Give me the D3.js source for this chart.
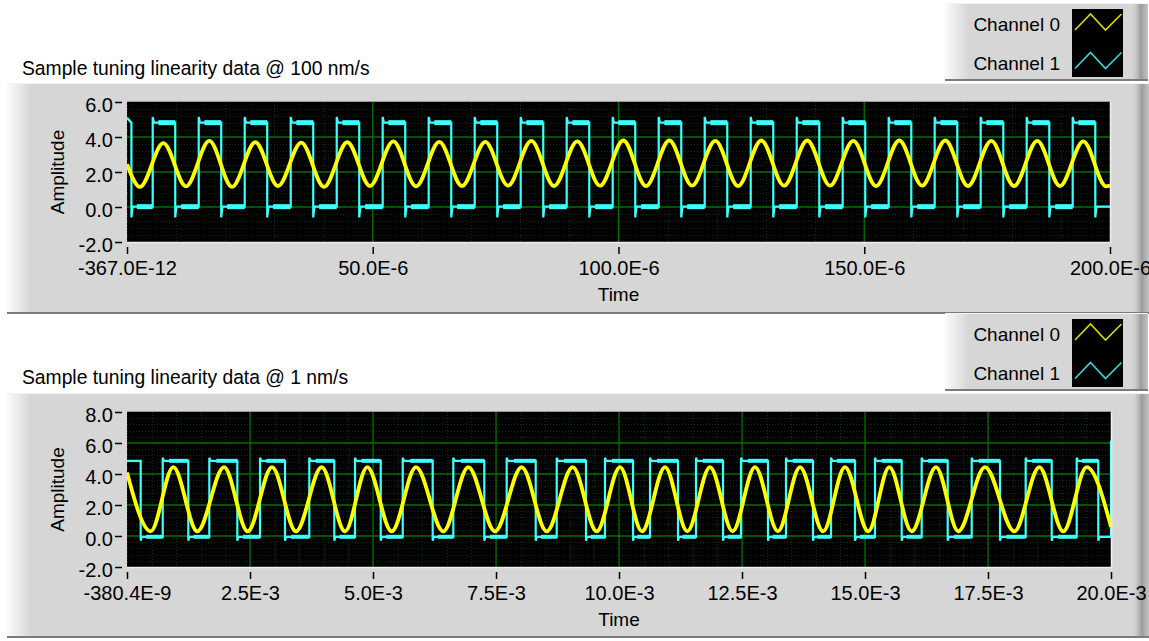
<!DOCTYPE html>
<html><head><meta charset="utf-8">
<script src="https://cdn.jsdelivr.net/npm/d3@7"></script>
<style>
html,body{margin:0;padding:0;background:#fff;}
svg{display:block;font-family:"Liberation Sans",Arial,sans-serif;}
</style></head><body>
<svg id="c" width="1149" height="641"></svg>
<script>
// ---------- DATA ----------
const seriesNames = ["Channel 0", "Channel 1"];

// Top chart: time in microseconds
const topTitle = "Sample tuning linearity data @ 100 nm/s";
const topXDomain = [-0.000367, 200];
const topXTicks = [-0.000367, 50, 100, 150, 200];
const topXTickLabels = ["-367.0E-12", "50.0E-6", "100.0E-6", "150.0E-6", "200.0E-6"];
const topYDomain = [-2, 6];
const topYTicks = [-2, 0, 2, 4, 6];
const topYTickLabels = ["-2.0", "0.0", "2.0", "4.0", "6.0"];
// Channel 0 (yellow) turning points [time, amplitude]
const topCh0 = [
  [0, 2.45],
  [2.65, 1.15], [7.39, 3.65], [12.01, 1.18], [16.75, 3.78], [21.37, 1.15], [26.11, 3.7],
  [30.72, 1.2], [35.46, 3.68], [40.08, 1.15], [44.82, 3.7], [49.44, 1.2], [54.18, 3.75],
  [58.8, 1.18], [63.54, 3.72], [68.16, 1.2], [72.9, 3.72], [77.52, 1.22], [82.26, 3.78],
  [86.88, 1.2], [91.62, 3.75], [96.24, 1.22], [100.98, 3.8], [105.6, 1.2], [110.34, 3.8],
  [114.96, 1.22], [119.7, 3.78], [124.32, 1.2], [129.06, 3.8], [133.67, 1.22], [138.41, 3.8],
  [143.03, 1.22], [147.77, 3.78], [152.39, 1.2], [157.13, 3.8], [161.75, 1.22], [166.49, 3.8],
  [171.11, 1.2], [175.85, 3.78], [180.47, 1.2], [185.21, 3.78], [189.83, 1.2], [194.57, 3.75],
  [199.19, 1.18], [200, 1.22]
];
// Channel 1 (cyan) square wave edges
const topCh1Rise = [5.23, 14.59, 23.95, 33.31, 42.67, 52.02, 61.38, 70.74, 80.10, 89.46, 98.82,
  108.18, 117.54, 126.90, 136.26, 145.61, 154.97, 164.33, 173.69, 183.05, 192.41];
const topCh1Fall = [0.9, 9.81, 19.17, 28.53, 37.89, 47.25, 56.61, 65.97, 75.33, 84.69, 94.05,
  103.41, 112.77, 122.13, 131.49, 140.85, 150.21, 159.57, 168.93, 178.29, 187.65, 197.01];
const topCh1Levels = {high: 4.82, low: 0.02, spikeUp: 5.15, spikeDown: -0.6, start: 5.1, end: 0.02};

// Bottom chart: time in milliseconds
const botTitle = "Sample tuning linearity data @ 1 nm/s";
const botXDomain = [-0.0003804, 20];
const botXTicks = [-0.0003804, 2.5, 5, 7.5, 10, 12.5, 15, 17.5, 20];
const botXTickLabels = ["-380.4E-9", "2.5E-3", "5.0E-3", "7.5E-3", "10.0E-3", "12.5E-3", "15.0E-3", "17.5E-3", "20.0E-3"];
const botYDomain = [-2, 8];
const botYTicks = [-2, 0, 2, 4, 6, 8];
const botYTickLabels = ["-2.0", "0.0", "2.0", "4.0", "6.0", "8.0"];
const botCh0 = [
  [0, 4.1],
  [0.482, 0.3], [0.941, 4.45], [1.429, 0.3], [1.972, 4.45], [2.453, 0.3], [2.947, 4.45],
  [3.435, 0.3], [3.957, 4.45], [4.431, 0.3], [4.884, 4.45], [5.38, 0.3], [5.874, 4.45],
  [6.429, 0.3], [6.937, 4.45], [7.48, 0.3], [8.022, 4.45], [8.53, 0.3], [9.059, 4.45],
  [9.547, 0.3], [10.02, 4.45], [10.467, 0.3], [10.935, 4.45], [11.388, 0.3], [11.85, 4.45],
  [12.309, 0.3], [12.764, 4.45], [13.23, 0.3], [13.679, 4.45], [14.15, 0.3], [14.593, 4.45],
  [15.067, 0.3], [15.494, 4.45], [15.949, 0.3], [16.443, 4.45], [16.896, 0.3], [17.439, 4.45],
  [18.035, 0.3], [18.543, 4.45], [19.03, 0.3], [19.506, 4.45], [20, 0.6]
];
const botCh1Rise = [0.726, 1.673, 2.703, 3.705, 4.634, 5.604, 6.632, 7.717, 8.734, 9.715, 10.63,
  11.565, 12.48, 13.394, 14.309, 15.203, 16.152, 17.169, 18.266, 19.303];
const botCh1Fall = [0.278, 1.246, 2.242, 3.211, 4.213, 5.157, 6.213, 7.262, 8.307, 9.329, 10.285,
  11.199, 12.114, 13.028, 13.943, 14.797, 15.746, 16.681, 17.744, 18.795, 19.742];
const botCh1Levels = {high: 4.85, low: -0.05, spikeUp: 5.05, spikeDown: -0.3, start: 4.85, end: 6.15};

// ---------- STYLE ----------
const FONT = '"Liberation Sans", Arial, sans-serif';
const COL0 = "#ffff00", COL1 = "#3cffff";
const PANEL = "#d6d6d6";
const svg = d3.select("#c");
const defs = svg.append("defs");
function grad(id, stops, x2, y2) {
  const g = defs.append("linearGradient").attr("id", id).attr("x1", 0).attr("y1", 0).attr("x2", x2).attr("y2", y2);
  stops.forEach(s => g.append("stop").attr("offset", s[0]).attr("stop-color", s[1]).attr("stop-opacity", s[2] == null ? 1 : s[2]));
}
grad("hlLeft", [[0, "#ffffff", 0.9], [1, "#ffffff", 0]], 1, 0);
grad("shRight", [[0, "#d6d6d6", 0], [0.6, "#9c9c9c", 1], [1, "#c4c4c4", 1]], 1, 0);

function panel(x, y, w, h) {
  const g = svg.append("g");
  g.append("rect").attr("x", x).attr("y", y).attr("width", w).attr("height", h).attr("fill", PANEL);
  g.append("rect").attr("x", x).attr("y", y).attr("width", 24).attr("height", h).attr("fill", "url(#hlLeft)");
  g.append("rect").attr("x", x + w - 18).attr("y", y).attr("width", 18).attr("height", h).attr("fill", "url(#shRight)");
  g.append("line").attr("x1", x).attr("x2", x + w).attr("y1", y + 0.5).attr("y2", y + 0.5).attr("stroke", "#f4f4f4");
  g.append("line").attr("x1", x).attr("x2", x + w).attr("y1", y + h - 1).attr("y2", y + h - 1).attr("stroke", "#7a7a7a").attr("stroke-width", 2);
  return g;
}

function legend(y0) {
  panel(945, y0, 203, 78);
  const cols = [COL0, COL1];
  svg.append("rect").attr("x", 1072).attr("y", y0 + 6).attr("width", 51).attr("height", 68).attr("fill", "#000");
  seriesNames.forEach((n, i) => {
    svg.append("text").attr("x", 1060).attr("y", y0 + 28 + i * 38.5).attr("text-anchor", "end")
      .attr("font-size", 19).attr("fill", "#000").text(n);
    const by = y0 + 27 + i * 38.5;
    svg.append("polyline").attr("points", [[1075, by], [1090.5, by - 16], [1105.5, by], [1121.5, by - 16]].map(p => p.join(",")).join(" "))
      .attr("fill", "none").attr("stroke", cols[i]).attr("stroke-width", 1.6).attr("opacity", 0.85);
  });
}

function squarePoints(rises, falls, lv, t0, t1) {
  const edges = rises.map(t => ({t, r: true})).concat(falls.map(t => ({t, r: false}))).sort((a, b) => a.t - b.t);
  const pts = [[t0, lv.start]];
  const d = (t1 - t0) * 0.0012;
  edges.forEach(e => {
    if (e.r) { pts.push([e.t, lv.low], [e.t, lv.spikeUp], [e.t + d, lv.high]); }
    else { pts.push([e.t, lv.high], [e.t, lv.spikeDown], [e.t + d, lv.low]); }
  });
  pts.push([t1, lv.low], [t1, lv.end]);
  return {pts, edges};
}

function chart(o) {
  panel(7, o.panelTop, 1142, o.panelH);
  svg.append("text").attr("x", 22).attr("y", o.titleY).attr("font-size", 19.3).attr("fill", "#000").text(o.title);
  const x = d3.scaleLinear().domain(o.xDomain).range([o.left, o.right]);
  const y = d3.scaleLinear().domain(o.yDomain).range([o.bottom, o.top]);
  const g = svg.append("g");
  g.append("rect").attr("x", o.left).attr("y", o.top).attr("width", o.right - o.left).attr("height", o.bottom - o.top).attr("fill", "#000");
  // minor grid
  const xs = o.xTicks, ys = o.yTicks;
  const minor = g.append("g").attr("stroke", "#0b300b").attr("stroke-width", 1).attr("stroke-dasharray", "1,2");
  for (let i = 0; i < ys.length - 1; i++) for (let k = 1; k < 5; k++) {
    const v = ys[i] + (ys[i + 1] - ys[i]) * k / 5;
    minor.append("line").attr("x1", o.left).attr("x2", o.right).attr("y1", Math.round(y(v)) + 0.5).attr("y2", Math.round(y(v)) + 0.5);
  }
  const xStep = xs[2] - xs[1];
  for (let v = 0; v < o.xDomain[1]; v += xStep / o.xMinor) {
    if (v <= o.xDomain[0]) continue;
    minor.append("line").attr("y1", o.top).attr("y2", o.bottom).attr("x1", Math.round(x(v)) + 0.5).attr("x2", Math.round(x(v)) + 0.5);
  }
  // major grid
  const major = g.append("g").attr("stroke", "#007000").attr("stroke-width", 1.3);
  ys.slice(1, -1).forEach(v => major.append("line").attr("x1", o.left).attr("x2", o.right).attr("y1", y(v)).attr("y2", y(v)));
  xs.slice(1, -1).forEach(v => major.append("line").attr("y1", o.top).attr("y2", o.bottom).attr("x1", x(v)).attr("x2", x(v)));

  const clip = "clip" + o.id;
  defs.append("clipPath").attr("id", clip).append("rect").attr("x", o.left).attr("y", o.top - 2).attr("width", o.right - o.left + 2).attr("height", o.bottom - o.top + 4);
  const pg = g.append("g").attr("clip-path", `url(#${clip})`);
  const sq = squarePoints(o.ch1Rise, o.ch1Fall, o.ch1Lv, 0, o.xDomain[1]);
  const line = d3.line().x(d => x(d[0])).y(d => y(d[1]));
  const band = pg.append("g").attr("stroke", COL1).attr("stroke-width", o.bandW).attr("fill", "none");
  const ed = sq.edges;
  for (let i = 0; i < ed.length - 1; i++) {
    const a = ed[i].t, b = ed[i + 1].t, lvl = ed[i].r ? o.ch1Lv.high : o.ch1Lv.low;
    band.append("path").attr("d", line([[a + (b - a) * 0.25, lvl], [b, lvl]]));
  }
  pg.append("path").attr("d", line(sq.pts)).attr("fill", "none").attr("stroke", COL1).attr("stroke-width", 2.2);
  const l0 = d3.line().x(d => x(d[0])).y(d => y(d[1])).curve(d3.curveMonotoneX);
  pg.append("path").attr("d", l0(o.ch0)).attr("fill", "none").attr("stroke", COL0).attr("stroke-width", 3.8);

  // frame
  g.append("line").attr("x1", o.right + 0.5).attr("x2", o.right + 0.5).attr("y1", o.top).attr("y2", o.bottom + 1).attr("stroke", "#f0f0f0").attr("stroke-width", 1.5);
  g.append("line").attr("x1", o.left).attr("x2", o.right + 1).attr("y1", o.bottom + 0.5).attr("y2", o.bottom + 0.5).attr("stroke", "#f0f0f0").attr("stroke-width", 1.5);
  g.append("line").attr("x1", o.left).attr("x2", o.right).attr("y1", o.top - 0.5).attr("y2", o.top - 0.5).attr("stroke", "#9a9a9a");

  // axes
  const ax = svg.append("g").attr("transform", `translate(0,${o.bottom})`)
    .call(d3.axisBottom(x).tickValues(xs).tickFormat((d, i) => o.xTickLabels[i]).tickSizeInner(0).tickSizeOuter(0).tickPadding(0));
  ax.attr("font-family", FONT).attr("font-size", 20);
  ax.select(".domain").remove();
  ax.selectAll(".tick line").attr("y1", 5).attr("y2", 12).attr("stroke", "#000").attr("stroke-width", 1.5);
  ax.selectAll(".tick text").attr("y", 33).attr("dy", 0).attr("fill", "#000");
  const ay = svg.append("g").attr("transform", `translate(${o.left},0)`)
    .call(d3.axisLeft(y).tickValues(ys).tickFormat((d, i) => o.yTickLabels[i]).tickSizeInner(0).tickSizeOuter(0).tickPadding(0));
  ay.attr("font-family", FONT).attr("font-size", 20);
  ay.select(".domain").remove();
  ay.selectAll(".tick line").attr("x1", -12).attr("x2", -5).attr("stroke", "#000").attr("stroke-width", 1.5);
  ay.selectAll(".tick text").attr("x", -14).attr("dy", 0).attr("y", 9.5).attr("fill", "#000");
  svg.append("text").attr("x", (o.left + o.right) / 2).attr("y", o.bottom + 59).attr("text-anchor", "middle").attr("font-size", 19).text("Time");
  svg.append("text").attr("transform", `translate(64,${(o.top + o.bottom) / 2}) rotate(-90)`).attr("text-anchor", "middle").attr("font-size", 19).text("Amplitude");
}

chart({id: "t", panelTop: 83, panelH: 231, titleY: 75, title: topTitle, left: 127, right: 1110, top: 102, bottom: 242,
  xDomain: topXDomain, xTicks: topXTicks, xTickLabels: topXTickLabels, yDomain: topYDomain, yTicks: topYTicks, yTickLabels: topYTickLabels,
  ch0: topCh0, ch1Rise: topCh1Rise, ch1Fall: topCh1Fall, ch1Lv: topCh1Levels, xMinor: 5, bandW: 5});
chart({id: "b", panelTop: 393, panelH: 245, titleY: 384, title: botTitle, left: 127, right: 1111, top: 412, bottom: 567,
  xDomain: botXDomain, xTicks: botXTicks, xTickLabels: botXTickLabels, yDomain: botYDomain, yTicks: botYTicks, yTickLabels: botYTickLabels,
  ch0: botCh0, ch1Rise: botCh1Rise, ch1Fall: botCh1Fall, ch1Lv: botCh1Levels, xMinor: 5, bandW: 4});
legend(3);
legend(313);
</script>
</body></html>
